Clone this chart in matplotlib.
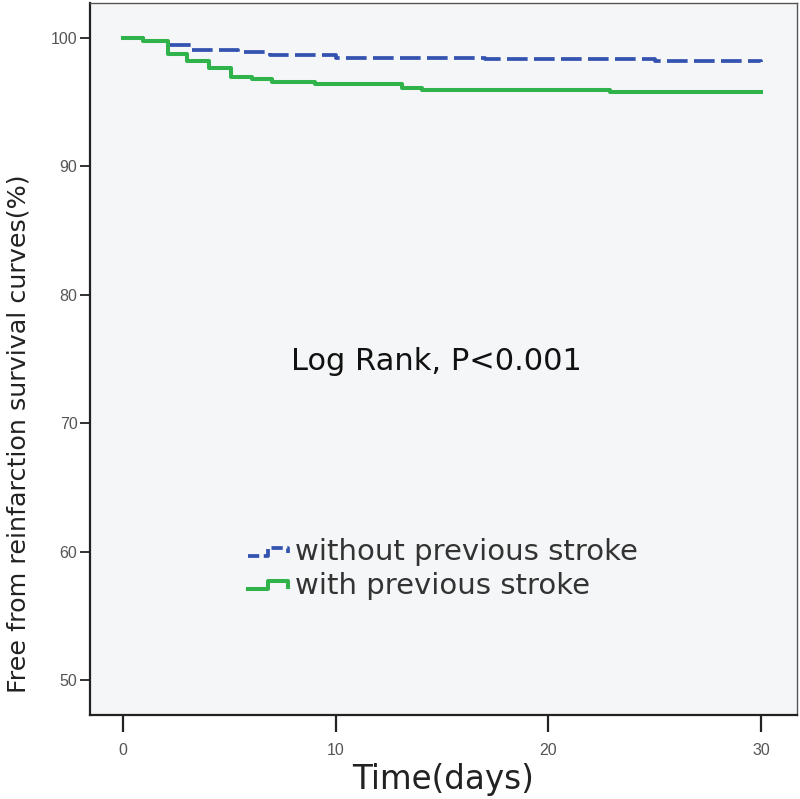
import matplotlib
matplotlib.use("Agg")
import matplotlib.pyplot as plt
from matplotlib.lines import Line2D
from matplotlib.legend_handler import HandlerBase

# ---- data ----
t_without = [0, 0.94, 2.1, 3.2, 5.4, 6.9, 10.0, 17.0, 25.0, 30.0]
s_without = [100, 99.8, 99.45, 99.1, 98.9, 98.7, 98.45, 98.35, 98.2, 98.15]

t_with = [0, 0.94, 2.1, 3.0, 4.03, 5.06, 6.05, 7.03, 9.05, 13.1, 14.06, 22.9, 30.0]
s_with = [100, 99.8, 98.75, 98.2, 97.66, 96.96, 96.8, 96.57, 96.42, 96.1, 95.95, 95.8, 95.8]

labels = ["without previous stroke", "with previous stroke"]
x_ticks = [0, 10, 20, 30]
y_ticks = [50, 60, 70, 80, 90, 100]

blue = "#3453b0"
green = "#2fb34a"

fig = plt.figure(figsize=(8.0, 7.99), dpi=100)
ax = fig.add_axes([90 / 800, 1 - 715 / 799, (797 - 90) / 800, (715 - 3) / 799])
ax.set_facecolor("#f5f6f7")

lb, = ax.step(t_without, s_without, where="post", color=blue, lw=2.7,
              linestyle=(0, (5.5, 1.7)), solid_capstyle="butt", dash_capstyle="butt")
lg, = ax.step(t_with, s_with, where="post", color=green, lw=2.9)

ax.set_xlim(-1.55, 31.69)
ax.set_ylim(47.27, 102.73)
ax.set_xticks(x_ticks)
ax.set_yticks(y_ticks)

tickfont = dict(family=["Liberation Sans Narrow", "Liberation Sans", "DejaVu Sans"], size=11.5)
ax.set_xticklabels([str(v) for v in x_ticks], **tickfont, color="#555555")
ax.set_yticklabels([str(v) for v in y_ticks], **tickfont, color="#555555")
ax.tick_params(axis="x", length=12, width=1.6, color="#222222", pad=8)
ax.tick_params(axis="y", length=7, width=1.3, color="#222222", pad=2)

for sp in ["left", "bottom"]:
    ax.spines[sp].set_linewidth(1.6)
    ax.spines[sp].set_color("#222222")
for sp in ["top", "right"]:
    ax.spines[sp].set_linewidth(1.0)
    ax.spines[sp].set_color("#555555")

ax.text(0.49, 0.496, "Log Rank, P<0.001", transform=ax.transAxes, ha="center", va="center",
        fontsize=22, color="#111111", family="DejaVu Sans")

fig.text(443 / 800, 1 - 779 / 799, "Time(days)", ha="center", va="center",
         fontsize=23.5, color="#222222", family="DejaVu Sans")
fig.text(19 / 800, 1 - 434 / 799, "Free from reinfarction survival curves(%)", rotation=90,
         ha="center", va="center", fontsize=18.3, color="#222222", family="DejaVu Sans")


class HandlerStepIcon(HandlerBase):
    def create_artists(self, legend, orig_handle, xdescent, ydescent, width, height,
                       fontsize, trans):
        x0 = -xdescent
        w = width
        yb = -ydescent + height * 0.22
        yt = -ydescent + height * 0.62
        ym = -ydescent + height * 0.35
        xs = [x0, x0 + 0.45 * w, x0 + 0.45 * w, x0 + 0.92 * w, x0 + 0.92 * w]
        ys = [yb, yb, yt, yt, ym]
        line = Line2D(xs, ys, color=orig_handle.get_color(), lw=orig_handle.get_linewidth(),
                      transform=trans)
        ls = orig_handle.get_linestyle()
        if ls not in ("-", "solid"):
            line.set_linestyle((0, (3.0, 1.2)))
        return [line]


leg = ax.legend([lb, lg], labels, loc="center left", bbox_to_anchor=(0.2235, 0.205),
                frameon=False, fontsize=21, handlelength=1.5, handletextpad=0.1,
                labelspacing=0.18, borderpad=0, borderaxespad=0,
                handler_map={Line2D: HandlerStepIcon()})
for txt in leg.get_texts():
    txt.set_color("#333333")

fig.savefig("out.png", dpi=100, facecolor="white")
